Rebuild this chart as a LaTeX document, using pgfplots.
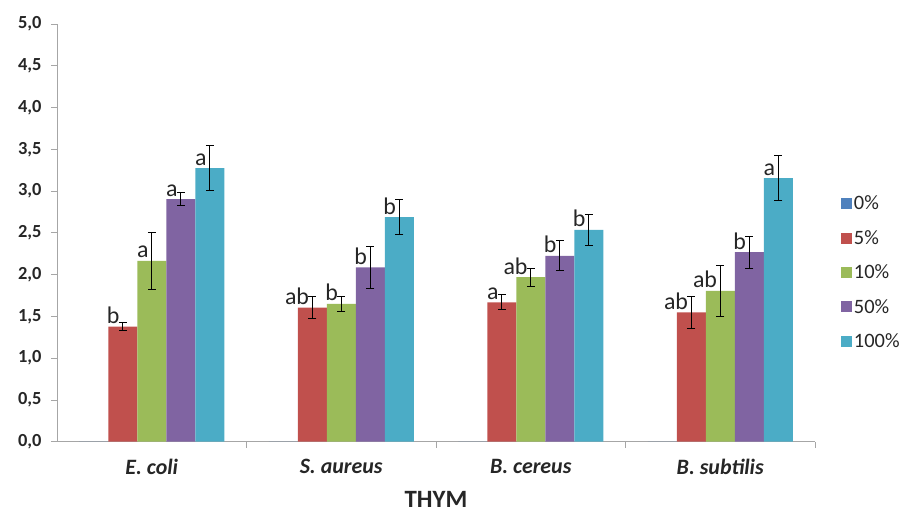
\documentclass[border=0pt]{standalone}
\usepackage{pgfplots}
\pgfplotsset{compat=1.18}
\usepackage{pgfplotstable}
\usepackage{fontspec}
\setmainfont{Carlito}
\definecolor{cA}{HTML}{4F81BD}
\definecolor{cB}{HTML}{C0504D}
\definecolor{cC}{HTML}{9BBB59}
\definecolor{cD}{HTML}{8064A2}
\definecolor{cE}{HTML}{4BACC6}
\definecolor{axgray}{HTML}{A6A6A6}

\pgfplotstableread{
x y
0 0
1 0
2 0
3 0
}\tZero
\pgfplotstableread{
x y e l
0 1.377 0.05 b
1 1.605 0.135 ab
2 1.669 0.09 a
3 1.549 0.19 ab
}\tFive
\pgfplotstableread{
x y e l
0 2.164 0.34 a
1 1.649 0.088 b
2 1.969 0.11 ab
3 1.805 0.30 ab
}\tTen
\pgfplotstableread{
x y e l
0 2.903 0.075 a
1 2.088 0.25 b
2 2.224 0.18 b
3 2.268 0.19 b
}\tFifty
\pgfplotstableread{
x y e l
0 3.274 0.27 a
1 2.687 0.21 b
2 2.535 0.185 b
3 3.154 0.27 a
}\tHundred

\pgfplotsset{
  sigbar/.style={
    draw=none,
    error bars/.cd, y dir=both, y explicit,
      error bar style={black, line width=0.9bp},
      error mark options={rotate=90, mark size=4bp, black, line width=0.9bp},
    /pgfplots/.cd,
    nodes near coords, point meta=explicit symbolic,
    every node near coord/.append style={anchor=base east, xshift=-2bp, yshift=3bp,
      font=\fontsize{24}{26}\selectfont, text=black!85, inner sep=1bp},
  },
}

\begin{document}
\begin{tikzpicture}
\useasboundingbox (0,0) rectangle (906bp,513bp);
\begin{axis}[
  at={(57bp,71.3bp)}, anchor=south west,
  scale only axis, width=758bp, height=417.7bp,
  ymin=0, ymax=5, xmin=-0.5, xmax=3.5,
  ybar=0pt, bar width=29bp,
  axis x line=bottom, axis y line=left,
  axis line style={-, draw=axgray, line width=0.8bp},
  tick style={axgray, line width=0.8bp},
  tick align=outside, major tick length=6bp,
  ytick={0,0.5,1,1.5,2,2.5,3,3.5,4,4.5,5},
  y tick label style={/pgf/number format/.cd, fixed, fixed zerofill, precision=1, use comma, assume math mode=true, /tikz/.cd, font=\fontsize{18.5}{20}\selectfont\bfseries, xshift=-6bp, text=black!85},
  xtick={0.5,1.5,2.5,3.5}, xticklabels={,,,},
  extra x ticks={0,1,2,3},
  extra x tick labels={\textit{E. coli},\textit{S. aureus},\textit{B. cereus},\textit{B. subtilis}},
  extra x tick style={major tick length=0pt},
  x tick label style={font=\fontsize{22}{24}\selectfont\bfseries, yshift=-14bp, text=black!85},
  xlabel={THYM},
  xlabel style={font=\fontsize{25}{27}\selectfont\bfseries, text=black!85, yshift=-4bp},
  legend style={at={(1.034,0.405)}, anchor=west, draw=none, fill=none,
    font=\fontsize{20.5}{23}\selectfont, row sep=15bp, inner sep=0pt, text=black!85},
  legend cell align=left,
  legend image code/.code={\fill[#1] (0bp,-5.5bp) rectangle (11bp,5.5bp);},
  every legend entry/.append style={xshift=2bp},
]
\addplot[fill=cA, draw=none] table[x=x,y=y] {\tZero};
\addlegendentry{0\%}
\addplot[fill=cB, sigbar] table[x=x,y=y,y error=e,meta=l] {\tFive};
\addlegendentry{5\%}
\addplot[fill=cC, sigbar] table[x=x,y=y,y error=e,meta=l] {\tTen};
\addlegendentry{10\%}
\addplot[fill=cD, sigbar] table[x=x,y=y,y error=e,meta=l] {\tFifty};
\addlegendentry{50\%}
\addplot[fill=cE, sigbar] table[x=x,y=y,y error=e,meta=l] {\tHundred};
\addlegendentry{100\%}
\end{axis}
\end{tikzpicture}
\end{document}
